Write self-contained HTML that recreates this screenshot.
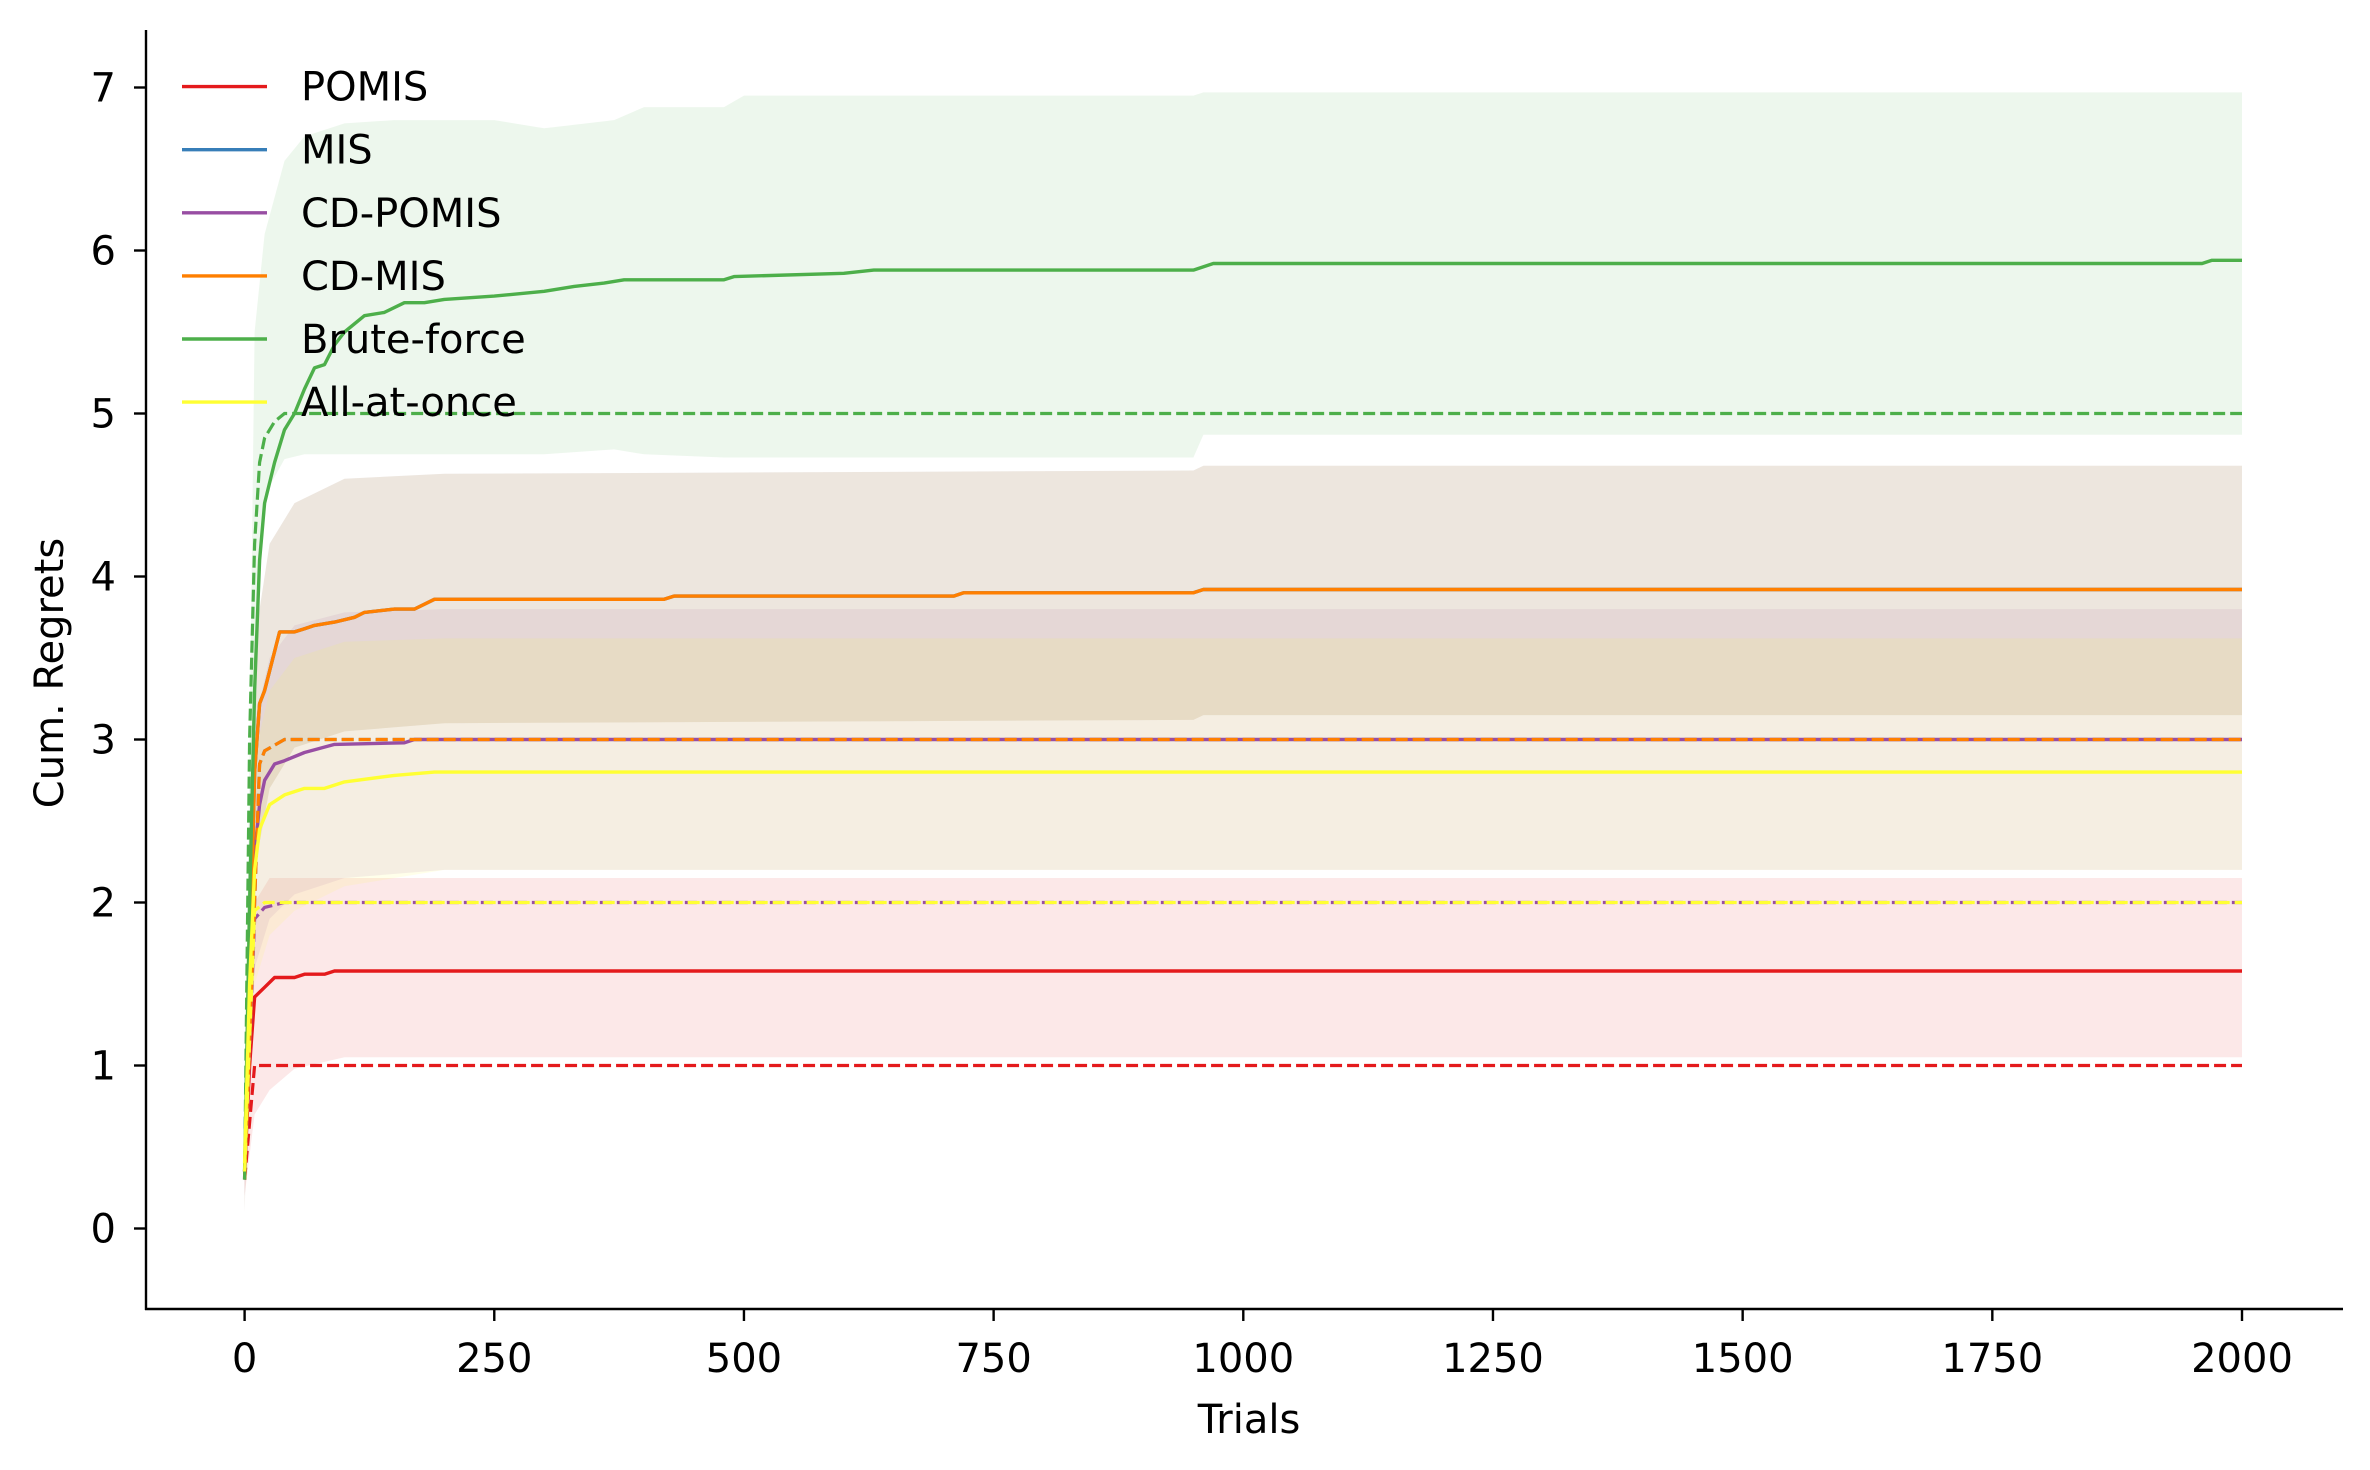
<!DOCTYPE html>
<html><head><meta charset="utf-8">
<style>
html,body{margin:0;padding:0;background:#fff;}
svg{display:block;font-family:"DejaVu Sans","Liberation Sans",sans-serif;}
</style></head>
<body>
<svg id="chart" width="2370" height="1470" viewBox="0 0 2370 1470" xmlns="http://www.w3.org/2000/svg">
<g id="bands"></g>
<g id="lines"></g>
<g id="axes"></g>
<g id="legend"></g>
</svg>
<script>
// ---- data ----
const xTicks = [0, 250, 500, 750, 1000, 1250, 1500, 1750, 2000];
const yTicks = [0, 1, 2, 3, 4, 5, 6, 7];
const seriesNames = ["POMIS", "MIS", "CD-POMIS", "CD-MIS", "Brute-force", "All-at-once"];
const seriesColors = ["#e41a1c", "#377eb8", "#984ea3", "#ff7f00", "#4daf4a", "#ffff33"];

const pomisT = [0, 5, 10, 20, 30, 50, 60, 80, 90, 2000];
const pomisMean = [0.35, 1.0, 1.42, 1.48, 1.54, 1.54, 1.56, 1.56, 1.58, 1.58];
const pomisMedT = [0, 10, 2000];
const pomisMed = [0.3, 1.0, 1.0];
const pomisBandT = [0, 10, 25, 50, 100, 2000];
const pomisLo = [0.2, 0.7, 0.85, 0.98, 1.05, 1.05];
const pomisHi = [0.5, 2.0, 2.15, 2.15, 2.15, 2.15];

const cdpT = [0, 10, 15, 20, 30, 40, 60, 90, 160, 170, 2000];
const cdpMean = [0.35, 2.3, 2.6, 2.75, 2.85, 2.87, 2.92, 2.97, 2.98, 3.0, 3.0];
const cdpMedT = [0, 10, 20, 40, 2000];
const cdpMed = [0.3, 1.9, 1.97, 2.0, 2.0];
const cdpBandT = [0, 10, 25, 50, 100, 200, 2000];
const cdpLo = [0.2, 1.6, 1.9, 2.05, 2.15, 2.2, 2.2];
const cdpHi = [0.5, 3.1, 3.5, 3.7, 3.78, 3.8, 3.8];

const cdmT = [0, 10, 15, 20, 25, 35, 50, 60, 70, 90, 110, 120, 150, 170, 190, 420, 430, 710, 720, 950, 960, 2000];
const cdmMean = [0.3, 2.8, 3.22, 3.3, 3.42, 3.66, 3.66, 3.68, 3.7, 3.72, 3.75, 3.78, 3.8, 3.8, 3.86, 3.86, 3.88, 3.88, 3.9, 3.9, 3.92, 3.92];
const cdmMedT = [0, 15, 20, 40, 2000];
const cdmMed = [0.3, 2.85, 2.93, 3.0, 3.0];
const cdmBandT = [0, 10, 25, 50, 100, 200, 950, 960, 2000];
const cdmLo = [0.1, 2.2, 2.7, 2.95, 3.05, 3.1, 3.12, 3.15, 3.15];
const cdmHi = [0.5, 3.6, 4.2, 4.45, 4.6, 4.63, 4.65, 4.68, 4.68];

const bfT = [0, 5, 10, 15, 20, 30, 40, 50, 60, 70, 80, 90, 100, 120, 140, 160, 180, 200, 250, 300, 330, 360, 380, 480, 490, 600, 630, 950, 970, 1960, 1970, 2000];
const bfMean = [0.35, 2.0, 3.3, 4.1, 4.45, 4.7, 4.9, 5.0, 5.15, 5.28, 5.3, 5.42, 5.5, 5.6, 5.62, 5.68, 5.68, 5.7, 5.72, 5.75, 5.78, 5.8, 5.82, 5.82, 5.84, 5.86, 5.88, 5.88, 5.92, 5.92, 5.94, 5.94];
const bfMedT = [0, 5, 10, 15, 20, 30, 40, 2000];
const bfMed = [0.3, 3.0, 4.2, 4.7, 4.85, 4.95, 5.0, 5.0];
const bfBandT = [0, 10, 20, 40, 60, 100, 150, 250, 300, 370, 400, 480, 500, 950, 960, 2000];
const bfLo = [0.3, 3.5, 4.5, 4.72, 4.75, 4.75, 4.75, 4.75, 4.75, 4.78, 4.75, 4.73, 4.73, 4.73, 4.87, 4.87];
const bfHi = [0.5, 5.5, 6.1, 6.55, 6.7, 6.78, 6.8, 6.8, 6.75, 6.8, 6.88, 6.88, 6.95, 6.95, 6.97, 6.97];

const aaoT = [0, 5, 10, 15, 25, 40, 60, 80, 100, 150, 190, 2000];
const aaoMean = [0.4, 1.5, 2.2, 2.45, 2.6, 2.66, 2.7, 2.7, 2.74, 2.78, 2.8, 2.8];
const aaoMedT = [0, 10, 20, 2000];
const aaoMed = [0.35, 1.95, 2.0, 2.0];
const aaoBandT = [0, 10, 25, 50, 100, 200, 2000];
const aaoLo = [0.3, 1.5, 1.8, 1.95, 2.1, 2.2, 2.2];
const aaoHi = [0.5, 2.9, 3.3, 3.5, 3.6, 3.62, 3.62];

// ---- layout ----
const X0 = 244.6, XS = 0.9987;
const Y0 = 1228.5, YS = 163.0;
const xPos = t => X0 + t * XS;
const yPos = v => Y0 - v * YS;
const NS = "http://www.w3.org/2000/svg";
function mk(tag, attrs, parent) {
  const e = document.createElementNS(NS, tag);
  for (const k in attrs) e.setAttribute(k, attrs[k]);
  parent.appendChild(e);
  return e;
}
const pts = (ts, vs) => ts.map((t, i) => xPos(t).toFixed(1) + "," + yPos(vs[i]).toFixed(1)).join(" ");

const bandsG = document.getElementById("bands");
const linesG = document.getElementById("lines");
const axesG = document.getElementById("axes");
const legG = document.getElementById("legend");

const series = [
  {key: "pomis", i: 0, T: pomisT, M: pomisMean, MT: pomisMedT, MD: pomisMed, BT: pomisBandT, L: pomisLo, H: pomisHi},
  {key: "mis", i: 1, T: cdmT, M: cdmMean, MT: cdmMedT, MD: cdmMed, BT: cdmBandT, L: cdmLo, H: cdmHi},
  {key: "cd-pomis", i: 2, T: cdpT, M: cdpMean, MT: cdpMedT, MD: cdpMed, BT: cdpBandT, L: cdpLo, H: cdpHi},
  {key: "cd-mis", i: 3, T: cdmT, M: cdmMean, MT: cdmMedT, MD: cdmMed, BT: cdmBandT, L: cdmLo, H: cdmHi},
  {key: "brute-force", i: 4, T: bfT, M: bfMean, MT: bfMedT, MD: bfMed, BT: bfBandT, L: bfLo, H: bfHi},
  {key: "all-at-once", i: 5, T: aaoT, M: aaoMean, MT: aaoMedT, MD: aaoMed, BT: aaoBandT, L: aaoLo, H: aaoHi}
];

series.forEach(s => {
  const c = seriesColors[s.i];
  const lo = pts(s.BT, s.L);
  const hi = s.BT.slice().reverse().map((t, j) => xPos(t).toFixed(1) + "," + yPos(s.H[s.H.length - 1 - j]).toFixed(1)).join(" ");
  const band = mk("polygon", {points: lo + " " + hi, fill: c, "fill-opacity": 0.1, stroke: "none"}, bandsG);
  
  
});

series.forEach(s => {
  const c = seriesColors[s.i];
  const mean = mk("polyline", {points: pts(s.T, s.M), fill: "none", stroke: c, "stroke-width": 3.4, "stroke-linejoin": "round"}, linesG);
  
  
  const med = mk("polyline", {points: pts(s.MT, s.MD), fill: "none", stroke: c, "stroke-width": 3.2, "stroke-dasharray": "12,5"}, linesG);
  
  
});

// axes
const spineL = mk("line", {x1: 146, y1: 30, x2: 146, y2: 1310, stroke: "#000", "stroke-width": 2.4}, axesG);


const spineB = mk("line", {x1: 145, y1: 1309, x2: 2343, y2: 1309, stroke: "#000", "stroke-width": 2.4}, axesG);



xTicks.forEach(t => {
  const x = xPos(t);
  const tk = mk("line", {x1: x, y1: 1309, x2: x, y2: 1321, stroke: "#000", "stroke-width": 2.4}, axesG);
  
  
  const lb = mk("text", {x: x, y: 1372, "font-size": 40, "text-anchor": "middle", fill: "#000"}, axesG);
  lb.textContent = String(t);
  
  
});
yTicks.forEach(v => {
  const y = yPos(v);
  const tk = mk("line", {x1: 134, y1: y, x2: 146, y2: y, stroke: "#000", "stroke-width": 2.4}, axesG);
  
  
  const lb = mk("text", {x: 116, y: y + 14, "font-size": 40, "text-anchor": "end", fill: "#000"}, axesG);
  lb.textContent = String(v);
  
  
});
const xt = mk("text", {x: 1249, y: 1433, "font-size": 40, "text-anchor": "middle", fill: "#000"}, axesG);
xt.textContent = "Trials";


const yt = mk("text", {x: 0, y: 0, "font-size": 40, "text-anchor": "middle", fill: "#000", transform: "translate(63,673) rotate(-90)"}, axesG);
yt.textContent = "Cum. Regrets";



// legend
seriesNames.forEach((n, i) => {
  const y = 86.6 + i * 63.1;
  const ln = mk("line", {x1: 182, y1: y, x2: 267, y2: y, stroke: seriesColors[i], "stroke-width": 3.4}, legG);
  
  
  const tx = mk("text", {x: 301, y: y + 14, "font-size": 40, fill: "#000"}, legG);
  tx.textContent = n;
  
  
});
</script>
</body></html>
